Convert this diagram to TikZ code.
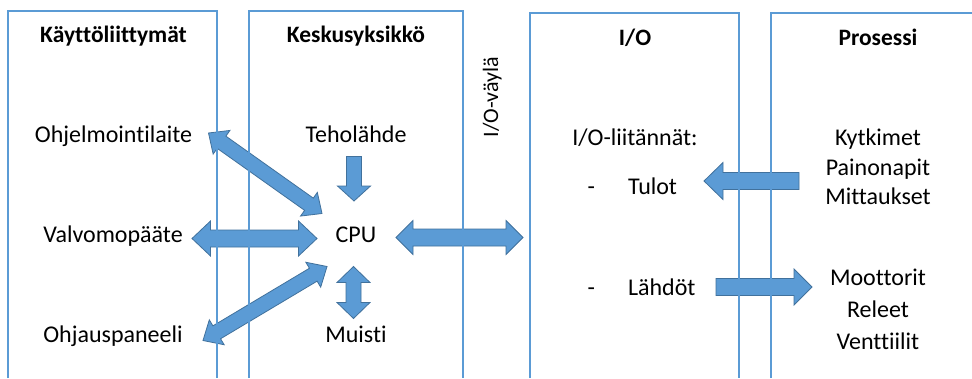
\documentclass[tikz,border=0pt]{standalone}
\usepackage{fontspec}
\setmainfont[Ligatures={NoCommon}]{Carlito}
\usetikzlibrary{calc}

\definecolor{frameblue}{HTML}{5B9BD5}
\definecolor{arrowfill}{HTML}{5B9BD5}
\definecolor{arrowedge}{HTML}{41719C}

\tikzset{
  lbl/.style={anchor=base, inner sep=0pt, font=\fontsize{24}{28}\selectfont},
  ttl/.style={anchor=base, inner sep=0pt, font=\fontsize{23.5}{27}\selectfont\bfseries},
  frameline/.style={draw=frameblue, line width=1.4pt},
  blockarrow/.style={fill=arrowfill, draw=arrowedge, line width=0.8pt, line join=miter},
}

% direction and length from coordinate #1 to coordinate #2
\newcommand\arrowframe[2]{%
  \path let \p1=($(#2)-(#1)$) in \pgfextra{%
    \pgfmathsetmacro\arrlen{veclen(\x1,\y1)}%
    \pgfmathsetmacro\arrang{atan2(\y1,\x1)}%
    \global\let\arrlen\arrlen\global\let\arrang\arrang};%
}
% double-headed block arrow: from, to, shaft half width, head half width, head length
\newcommand\dblarrow[5]{%
  \arrowframe{#1}{#2}%
  \begin{scope}[shift={(#1)}, rotate=\arrang]
    \draw[blockarrow] (0,0) -- (#5,#4) -- (#5,#3) -- ({\arrlen-#5},#3) -- ({\arrlen-#5},#4)
      -- (\arrlen,0) -- ({\arrlen-#5},-#4) -- ({\arrlen-#5},-#3) -- (#5,-#3) -- (#5,-#4) -- cycle;
  \end{scope}
}
% single-headed block arrow: tail, tip, shaft half width, head half width, head length
\newcommand\sglarrow[5]{%
  \arrowframe{#1}{#2}%
  \begin{scope}[shift={(#1)}, rotate=\arrang]
    \draw[blockarrow] (0,#3) -- ({\arrlen-#5},#3) -- ({\arrlen-#5},#4) -- (\arrlen,0)
      -- ({\arrlen-#5},-#4) -- ({\arrlen-#5},-#3) -- (0,-#3) -- cycle;
  \end{scope}
}

\begin{document}
\begin{tikzpicture}[x=1pt, y=-1pt]
  \useasboundingbox (0,0) rectangle (972,378);
  \fill[white] (0,0) rectangle (972,378);

  % arrow end points
  \coordinate (a1s) at (208.5,133);   \coordinate (a1e) at (322,213.5);
  \coordinate (a2s) at (192,238.5);   \coordinate (a2e) at (317,238.5);
  \coordinate (a3s) at (203,340.5);   \coordinate (a3e) at (327,266.5);
  \coordinate (a4s) at (354,156.5);   \coordinate (a4e) at (354,201);
  \coordinate (a5s) at (353.5,266.5); \coordinate (a5e) at (353.5,318.5);
  \coordinate (a6s) at (396,237.5);   \coordinate (a6e) at (523,237.5);
  \coordinate (a7s) at (799,181);     \coordinate (a7e) at (704,181);
  \coordinate (a8s) at (716,287);     \coordinate (a8e) at (812,287);

  % block arrows
  \dblarrow{a1s}{a1e}{7.5}{14.5}{16}
  \dblarrow{a2s}{a2e}{8.5}{17.5}{18.5}
  \dblarrow{a3s}{a3e}{7.5}{14.5}{16}
  \sglarrow{a4s}{a4e}{7.5}{16.5}{15}
  \dblarrow{a5s}{a5e}{7.5}{16.5}{16}
  \dblarrow{a6s}{a6e}{8.5}{17}{17}
  \sglarrow{a7s}{a7e}{8.5}{18.5}{19}
  \sglarrow{a8s}{a8e}{8.5}{18}{18}

  % column frames, open at the bottom
  \draw[frameline] (8,378) -- (8,11) -- (217,11) -- (217,378);
  \draw[frameline] (249,378) -- (249,11) -- (463,11) -- (463,378);
  \draw[frameline] (530,378) -- (530,13) -- (739,13) -- (739,378);
  \draw[frameline] (771,378) -- (771,13) -- (972,13);

  % column titles
  \node[ttl] (t1) at (113.5,42.5) {Käyttöliittymät};
  \node[ttl] (t2) at (356,42.5) {Keskusyksikkö};
  \node[ttl] (t3) at (635,45) {I/O};
  \node[ttl] (t4) at (878,45) {Prosessi};

  % user interfaces
  \node[lbl] (ohjelm) at (113.5,142) {Ohjelmointilaite};
  \node[lbl] (valvo) at (113,242) {Valvomopääte};
  \node[lbl] (ohjaus) at (113,342) {Ohjauspaneeli};

  % central unit
  \node[lbl] (teho) at (356,142.5) {Teholähde};
  \node[lbl] (cpu) at (356,242) {CPU};
  \node[lbl] (muisti) at (356,342.5) {Muisti};

  % bus label
  \node[lbl, rotate=90, font=\fontsize{22}{26}\selectfont] (bus) at (498,97) {I/O-väylä};

  % I/O
  \node[lbl] (iol) at (635,145.5) {I/O-liitännät:};
  \node[lbl, anchor=base west] (tulot) at (587.5,194) {-\hspace{33pt}Tulot};
  \node[lbl, anchor=base west] (lahdot) at (587.5,295) {-\hspace{33pt}Lähdöt};

  % process
  \node[lbl] (kyt) at (878,145.5) {Kytkimet};
  \node[lbl] (pai) at (878,175) {Painonapit};
  \node[lbl] (mit) at (878,204) {Mittaukset};
  \node[lbl] (moo) at (878,285) {Moottorit};
  \node[lbl] (rel) at (878,317) {Releet};
  \node[lbl] (ven) at (878,349) {Venttiilit};
\end{tikzpicture}
\end{document}
